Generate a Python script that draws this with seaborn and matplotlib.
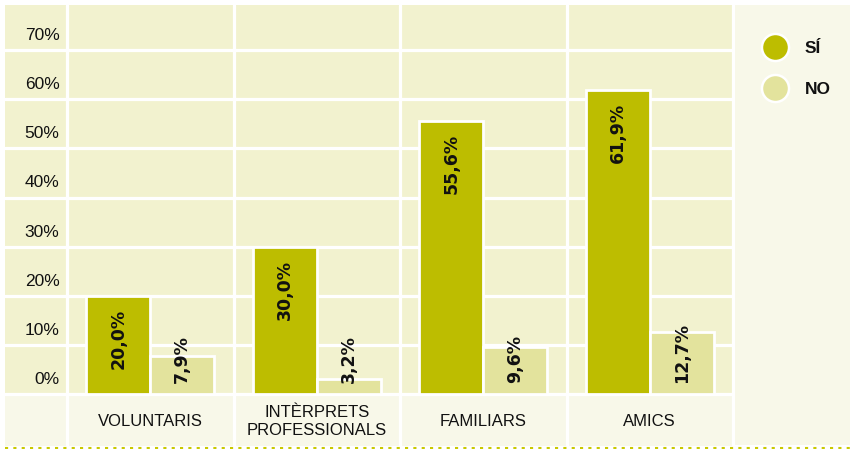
import matplotlib
matplotlib.use("Agg")
import matplotlib.pyplot as plt
from matplotlib.lines import Line2D
import seaborn as sns
import pandas as pd

# ---- data ----
categories = ["VOLUNTARIS", "INTÈRPRETS\nPROFESSIONALS", "FAMILIARS", "AMICS"]
si_values = [20.0, 30.0, 55.6, 61.9]
no_values = [7.9, 3.2, 9.6, 12.7]
series_names = ["SÍ", "NO"]
y_ticks = [0, 10, 20, 30, 40, 50, 60, 70]
y_tick_labels = ["0%", "10%", "20%", "30%", "40%", "50%", "60%", "70%"]

# ---- style ----
C_SI = "#BDBD00"
C_NO = "#E3E39D"
C_PANEL = "#F2F2CF"
C_STRIP = "#F8F8E9"
C_DOT = "#C9C900"

sns.set_theme(style="white")
plt.rcParams["font.family"] = ["Liberation Sans", "DejaVu Sans"]

df = pd.DataFrame({
    "cat": categories * 2,
    "val": si_values + no_values,
    "serie": [series_names[0]] * 4 + [series_names[1]] * 4,
})

W, H = 850, 449
fig = plt.figure(figsize=(W / 100, H / 100), dpi=100, facecolor="white")

# main axes: pixels x 5..733, y 5..446 (top-down)
ax = fig.add_axes([5 / W, (H - 446) / H, 728 / W, 441 / H])
ax.set_facecolor(C_PANEL)

sns.barplot(data=df, x="cat", y="val", hue="serie", hue_order=series_names,
            palette=[C_SI, C_NO], width=0.77, edgecolor="white", linewidth=2,
            saturation=1, legend=False, ax=ax, zorder=3)

x_left = -0.5 - 62 / 166.5
ax.set_xlim(x_left, 3.5)
ax.set_ylim(-10.47, 79.15)

# bottom strip
ax.axhspan(-10.47, 0, color=C_STRIP, zorder=0.5, lw=0)

# grid (white)
for v in y_ticks:
    ax.axhline(v, color="white", lw=2.3, zorder=1)
for xv in [-0.5, 0.5, 1.5, 2.5, 3.5]:
    ax.axvline(xv, color="white", lw=2.3, zorder=1)

# y tick labels in the left column
for v, lab in zip(y_ticks, y_tick_labels):
    ax.text(-0.545, v + 3.0, lab, ha="right", va="center", fontsize=12.5,
            color="#111111", zorder=4)

# category labels in the bottom strip
for i, lab in enumerate(categories):
    ax.text(i, -5.4, lab, ha="center", va="center", fontsize=12,
            color="#111111", linespacing=1.25, zorder=4)

# bar value labels
def fmt(v):
    return f"{v:.1f}".replace(".", ",") + "%"

si_bars, no_bars = ax.containers[0], ax.containers[1]
for bar, v in zip(si_bars, si_values):
    cx = bar.get_x() + bar.get_width() / 2
    ax.text(cx, v - 2.6, fmt(v), rotation=90, ha="center", va="top",
            fontsize=12.5, fontweight="bold", family="DejaVu Sans",
            color="#111111", zorder=5)
for bar, v in zip(no_bars, no_values):
    cx = bar.get_x() + bar.get_width() / 2
    ax.text(cx, 2.4, fmt(v), rotation=90, ha="center", va="bottom",
            fontsize=12.5, fontweight="bold", family="DejaVu Sans",
            color="#111111", zorder=5)

ax.set_xticks([])
ax.set_yticks([])
ax.set_xlabel("")
ax.set_ylabel("")
for s in ax.spines.values():
    s.set_visible(False)

# legend panel
lax = fig.add_axes([735 / W, (H - 445) / H, 115 / W, 440 / H])
lax.set_facecolor(C_STRIP)
lax.set_xticks([])
lax.set_yticks([])
for s in lax.spines.values():
    s.set_visible(False)

handles = [Line2D([], [], linestyle="none", marker="o", markersize=19.5,
                  markerfacecolor=c, markeredgecolor="white", markeredgewidth=1.8)
           for c in [C_SI, C_NO]]
leg = fig.legend(handles, series_names, loc="upper left",
                 bbox_to_anchor=(762 / W, 1 - 41 / H), frameon=False,
                 prop={"size": 12.5, "weight": "bold", "family": "Liberation Sans"},
                 handlelength=1.5, handletextpad=0.98, labelspacing=1.5,
                 borderpad=0, borderaxespad=0)
for t in leg.get_texts():
    t.set_color("#111111")

# dotted bottom line
fig.add_artist(Line2D([5 / W, 1.0], [1 - 448 / H, 1 - 448 / H], color=C_DOT,
                      lw=1.5, linestyle=(0, (1.5, 2.5)), transform=fig.transFigure))

fig.savefig("out.png", dpi=100, facecolor="white")
